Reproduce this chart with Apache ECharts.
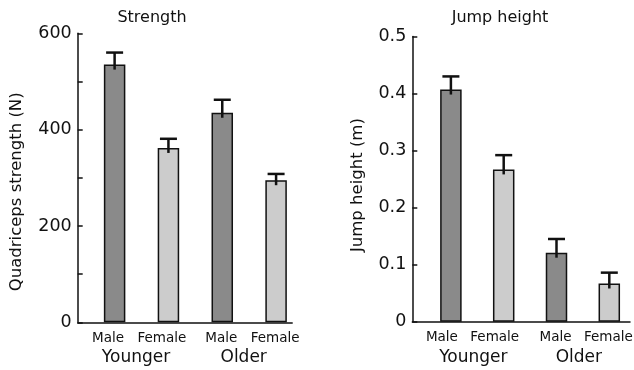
<!DOCTYPE html>
<html>
<head>
<meta charset="utf-8">
<script src="https://cdn.jsdelivr.net/npm/echarts@6/dist/echarts.min.js"></script>
<style>
  html, body { margin: 0; padding: 0; background: #fff; }
  #chart { width: 634px; height: 370px; }
</style>
</head>
<body>
<div id="chart"></div>
<script>
// data
var sexes = ['Male', 'Female', 'Male', 'Female'];
var ageGroups = ['Younger', 'Older'];
var strengthMean = [535, 362, 435, 295];
var strengthErr = [25, 19, 27, 13];
var jumpMean = [0.407, 0.267, 0.121, 0.067];
var jumpErr = [0.023, 0.025, 0.024, 0.019];

var FONT = 'DejaVu Sans';
var barFill = ['#8a8a8a', '#cccccc', '#8a8a8a', '#cccccc'];

var chart = echarts.init(document.getElementById('chart'), null, { renderer: 'canvas' });

function errRender(errs) {
  return function (params, api) {
    var i = api.value(0);
    var v = api.value(1);
    var base = api.coord([i, v]);
    var top = api.coord([i, v + errs[i]]);
    var st = { stroke: '#111', lineWidth: 2.5 };
    return {
      type: 'group',
      children: [
        { type: 'line', shape: { x1: base[0], y1: base[1] + 5, x2: top[0], y2: top[1] }, style: st },
        { type: 'line', shape: { x1: top[0] - 8.5, y1: top[1], x2: top[0] + 8.5, y2: top[1] }, style: st }
      ]
    };
  };
}

function sexAxis(gridIndex, shift) {
  return {
    type: 'category', gridIndex: gridIndex, data: sexes, position: 'bottom',
    axisLine: { show: false }, axisTick: { show: false },
    axisLabel: {
      margin: 9, interval: 0, color: '#111', fontFamily: FONT, fontSize: 13.5,
      formatter: function (v, idx) { return idx < 2 ? '{y|' + v + '}' : '{o|' + v + '}'; },
      rich: {
        y: { fontFamily: FONT, fontSize: 13.5, color: '#111', padding: [0, shift, 0, 0] },
        o: { fontFamily: FONT, fontSize: 13.5, color: '#111', padding: [0, 2, 0, 0] }
      }
    }
  };
}
function groupAxis(gridIndex, shift) {
  return {
    type: 'category', gridIndex: gridIndex, data: ageGroups, position: 'bottom',
    axisLine: { show: false }, axisTick: { show: false },
    axisLabel: {
      margin: 27, interval: 0, color: '#111', fontFamily: FONT, fontSize: 17,
      padding: [0, shift, 0, 0]
    }
  };
}
function frameX(gridIndex) {
  return {
    type: 'value', gridIndex: gridIndex, min: 0, max: 1, position: 'bottom',
    axisLine: { show: true, lineStyle: { color: '#111', width: 1.5 } },
    axisTick: { show: false }, axisLabel: { show: false }, splitLine: { show: false }
  };
}
function frameY(gridIndex) {
  return { type: 'value', gridIndex: gridIndex, show: false, min: 0, max: 1 };
}
function valueAxis(gridIndex, max, interval, offset, name, namePad, nameGap) {
  return {
    type: 'value', gridIndex: gridIndex, min: 0, max: max, interval: interval, offset: offset,
    name: name, nameLocation: 'middle', nameGap: nameGap,
    nameTextStyle: { fontFamily: FONT, fontSize: 16.5, color: '#111', padding: [0, namePad, 0, 0] },
    axisLine: { show: true, lineStyle: { color: '#111', width: 1.5 } },
    axisTick: { show: true, inside: true, length: 5, lineStyle: { color: '#111', width: 1.5 } },
    minorTick: { show: gridIndex === 1, splitNumber: 2, length: 5, lineStyle: { color: '#111', width: 1.5 } },
    axisLabel: { margin: 6, color: '#111', fontFamily: FONT, fontSize: 17.5 },
    splitLine: { show: false }
  };
}

var option = {
  animation: false,
  title: [
    { text: 'Strength', left: 147, top: 5, textAlign: 'center',
      textStyle: { fontFamily: FONT, fontSize: 16, fontWeight: 'normal', color: '#111' } },
    { text: 'Jump height', left: 495, top: 5, textAlign: 'center',
      textStyle: { fontFamily: FONT, fontSize: 16, fontWeight: 'normal', color: '#111' } }
  ],
  grid: [
    // left panel: frame (for baseline) and bars
    { left: 77.7, top: 33.3, width: 214.5, height: 289, outerBoundsMode: 'none' },
    { left: 87.7, top: 33.3, width: 215.3, height: 289, outerBoundsMode: 'none' },
    // right panel
    { left: 412.3, top: 36.5, width: 217.7, height: 285.2, outerBoundsMode: 'none' },
    { left: 424.5, top: 36.5, width: 211.2, height: 285.2, outerBoundsMode: 'none' }
  ],
  xAxis: [
    frameX(0),
    sexAxis(1, 13),
    groupAxis(1, 11),
    frameX(2),
    sexAxis(3, 18),
    groupAxis(3, 8)
  ],
  yAxis: [
    frameY(0),
    valueAxis(1, 600, 200, 10, 'Quadriceps strength (N)', 28, 52),
    frameY(2),
    valueAxis(3, 0.5, 0.1, 12.2, 'Jump height (m)', 12, 46)
  ],
  series: [
    {
      type: 'bar', xAxisIndex: 1, yAxisIndex: 1, barWidth: 21.5,
      data: strengthMean.map(function (v, i) {
        return { value: v, itemStyle: { color: barFill[i] } };
      }),
      itemStyle: { borderColor: '#111', borderWidth: 1.5 }
    },
    {
      type: 'custom', xAxisIndex: 1, yAxisIndex: 1, z: 5,
      renderItem: errRender(strengthErr),
      data: strengthMean.map(function (v, i) { return [i, v]; })
    },
    {
      type: 'bar', xAxisIndex: 4, yAxisIndex: 3, barWidth: 21.5,
      data: jumpMean.map(function (v, i) {
        return { value: v, itemStyle: { color: barFill[i] } };
      }),
      itemStyle: { borderColor: '#111', borderWidth: 1.5 }
    },
    {
      type: 'custom', xAxisIndex: 4, yAxisIndex: 3, z: 5,
      renderItem: errRender(jumpErr),
      data: jumpMean.map(function (v, i) { return [i, v]; })
    }
  ]
};

chart.setOption(option);
</script>
</body>
</html>
